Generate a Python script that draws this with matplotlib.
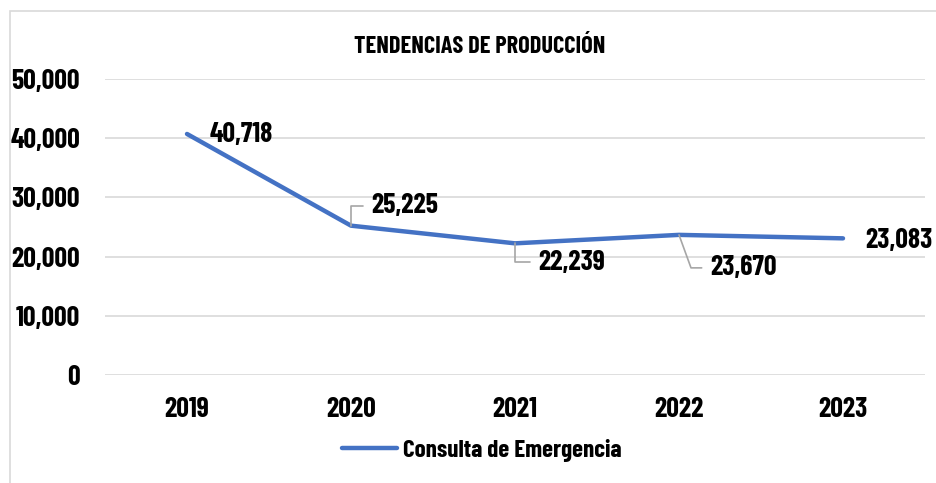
import matplotlib
matplotlib.use('Agg')
import matplotlib.pyplot as plt
from matplotlib.patches import Rectangle
from matplotlib.ticker import FuncFormatter

years = ['2019', '2020', '2021', '2022', '2023']
consultas = [40718, 25225, 22239, 23670, 23083]
# label offsets in pixels from the point, and leader line angle (None = no leader)
label_offsets = [(23, -1), (20, 20), (23, -19), (31, -33), (22, -2)]
leader_angles = [None, 90, 90, 110, None]

plt.rcParams['font.family'] = ['Barlow Condensed', 'DejaVu Sans']
plt.rcParams['font.weight'] = 'bold'

fig = plt.figure(figsize=(9.36, 4.83), dpi=100)
ax = fig.add_axes([105 / 936, 1 - 375 / 483, 820 / 936, 296 / 483])

# outer chart border
fig.patches.append(Rectangle((9.5 / 936, -0.1), 1.2, 1 - 11 / 483 + 0.1,
                             transform=fig.transFigure, fill=False,
                             edgecolor='#D9D9D9', linewidth=1.2))

x = list(range(len(years)))
ax.plot(x, consultas, color='#4472C4', linewidth=3.2, solid_capstyle='round',
        label='Consulta de Emergencia', zorder=3)

for i, v in enumerate(consultas):
    dx, dy = label_offsets[i]
    arrow = None
    if leader_angles[i] is not None:
        arrow = dict(arrowstyle='-', color='#A6A6A6', lw=1.2, shrinkA=4, shrinkB=0,
                     relpos=(0, 0.5),
                     connectionstyle='angle,angleA=0,angleB=%d,rad=0' % leader_angles[i])
    ax.annotate('{:,}'.format(v), xy=(i, v), xytext=(dx, dy), textcoords='offset pixels',
                ha='left', va='center', fontsize=20, fontweight='bold',
                arrowprops=arrow)

ax.set_xlim(-0.5, 4.5)
ax.set_ylim(0, 50000)
ax.set_yticks(range(0, 50001, 10000))
ax.yaxis.set_major_formatter(FuncFormatter(lambda v, p: '{:,}'.format(int(v))))
ax.set_xticks(x)
ax.set_xticklabels(years)
ax.tick_params(axis='both', length=0, labelsize=20)
ax.tick_params(axis='y', pad=18)
ax.tick_params(axis='x', pad=16)
ax.grid(axis='y', color='#D9D9D9', linewidth=1.2)
ax.set_axisbelow(True)
for s in ax.spines.values():
    s.set_visible(False)

fig.text(480 / 936, 1 - 47 / 483, 'TENDENCIAS DE PRODUCCIÓN', ha='center', va='center',
         fontsize=17.5, fontweight='bold')

ax.legend(loc='center', bbox_to_anchor=(482 / 936, 1 - 450 / 483), bbox_transform=fig.transFigure,
          frameon=False, fontsize=18, handlelength=2.2, handletextpad=0.25)

fig.savefig('out.png', dpi=100)
